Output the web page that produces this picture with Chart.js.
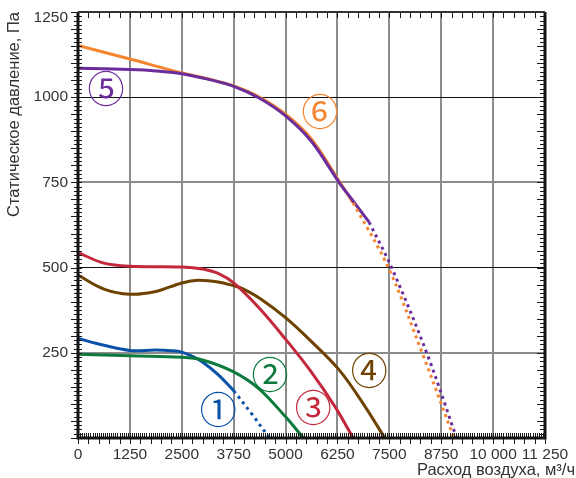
<!DOCTYPE html>
<html>
<head>
<meta charset="utf-8">
<script src="https://cdn.jsdelivr.net/npm/chart.js@4.4.1/dist/chart.umd.min.js"></script>
<style>
  html, body { margin: 0; padding: 0; background: #ffffff; }
  #wrap { width: 576px; height: 478px; }
</style>
</head>
<body>
<div id="wrap"><canvas id="c" width="576" height="478"></canvas></div>
<script>
// ---- tick labels ----
const flowTickLabels = ['0', '1250', '2500', '3750', '5000', '6250', '7500', '8750', '10 000', '11 250'];
const pressureTickLabels = ['', '250', '500', '750', '1000', '1250'];

// ---- curve 1 (blue) ----
const c1Flow = [0, 625, 1250, 1875, 2250, 2500, 2770, 3000, 3375, 3750];
const c1Pa   = [292, 272, 257, 258, 256, 252, 239, 223, 186, 139];
const c1DotFlow = [3750, 4190, 4612];
const c1DotPa   = [139, 70, 0];

// ---- curve 2 (green) ----
const c2Flow = [0, 1250, 2500, 3000, 3750, 4375, 5000, 5430];
const c2Pa   = [246, 241, 237, 229, 194, 143, 62, 0];

// ---- curve 3 (red) ----
const c3Flow = [0, 625, 1250, 2500, 3000, 3375, 3750, 4375, 5000, 5588, 6190, 6630];
const c3Pa   = [544, 513, 504, 502, 496, 483, 455, 380, 290, 199, 92, 0];

// ---- curve 4 (brown) ----
const c4Flow = [0, 625, 1250, 1875, 2500, 2900, 3375, 3750, 3950, 4375, 5000, 5588, 6310, 6900, 7390];
const c4Pa   = [478, 437, 422, 430, 455, 463, 458, 447, 439, 410, 353, 287, 197, 95, 0];

// ---- curve 5 (purple) ----
const c5Flow = [0, 1250, 1875, 2500, 3125, 3750, 4375, 5000, 5625, 6300, 6630, 7010];
const c5Pa   = [1085, 1081, 1077, 1069, 1053, 1032, 997, 945, 870, 748, 695, 634];
const c5DotFlow = [7010, 7555, 8400, 9120];
const c5DotPa   = [634, 500, 250, 0];

// ---- curve 6 (orange) ----
const c6Flow = [0, 1250, 2500, 3125, 3750, 4375, 5000, 5625, 6300, 6630];
const c6Pa   = [1152, 1112, 1071, 1054, 1033, 1000, 950, 877, 752, 690];
const c6DotFlow = [6630, 7475, 8290, 9055];
const c6DotPa   = [690, 500, 250, 0];

// ---- curve labels (data coordinates) ----
const labelTexts = ['①', '②', '③', '④', '⑤', '⑥'];
const labelFlow  = [3379, 4624, 5667, 7016, 674, 5829];
const labelPa    = [82, 185, 87, 197, 1025, 956];

const BLUE = '#0a52a8', GREEN = '#0b7a3c', RED = '#c4283c', BROWN = '#6e4200', PURPLE = '#6b2c9c', ORANGE = '#f5852f';
const labelColors = [BLUE, GREEN, RED, BROWN, PURPLE, ORANGE];

function pts(fx, py) { return fx.map((x, i) => ({ x: x, y: py[i] })); }

function solid(data, color) {
  return { data: data, borderColor: color, borderWidth: 3, pointRadius: 0, fill: false,
           tension: 0.35, borderCapStyle: 'butt' };
}
function dotted(data, color) {
  return { data: data, borderColor: color, borderWidth: 3, pointRadius: 0, fill: false,
           tension: 0.35, borderDash: [3, 4], borderCapStyle: 'butt' };
}

const datasets = [
  solid(pts(c2Flow, c2Pa), GREEN),
  solid(pts(c1Flow, c1Pa), BLUE),
  dotted(pts(c1DotFlow, c1DotPa), BLUE),
  solid(pts(c3Flow, c3Pa), RED),
  solid(pts(c4Flow, c4Pa), BROWN),
  dotted(pts(c6DotFlow, c6DotPa), ORANGE),
  dotted(pts(c5DotFlow, c5DotPa), PURPLE),
  solid(pts(c5Flow, c5Pa), PURPLE),
  solid(pts(c6Flow, c6Pa), ORANGE)
];

const FONT = '"Liberation Sans", Arial, sans-serif';

const frameAndTicks = {
  id: 'frameAndTicks',
  afterDatasetsDraw(chart) {
    const ctx = chart.ctx;
    const xs = chart.scales.x, ys = chart.scales.y;
    const L = xs.getPixelForValue(0), R = xs.getPixelForValue(11250);
    const B = ys.getPixelForValue(0), T = ys.getPixelForValue(1250);
    ctx.save();
    ctx.strokeStyle = '#1a1a1a';
    ctx.lineWidth = 1;
    ctx.beginPath();
    for (let v = 0; v <= 11250; v += 50) {
      const p = Math.round(xs.getPixelForValue(v)) + 0.5;
      ctx.moveTo(p, B); ctx.lineTo(p, B - 5);
      if (v % 250 === 0) { ctx.moveTo(p, B); ctx.lineTo(p, B + 6); }
    }
    for (let v = 0; v <= 11250; v += 250) {
      const p = Math.round(xs.getPixelForValue(v)) + 0.5;
      ctx.moveTo(p, T); ctx.lineTo(p, T + 6);
    }
    for (let v = 0; v <= 1250; v += 12.5) {
      const p = Math.round(ys.getPixelForValue(v)) + 0.5;
      const big = (v % 50 === 0);
      ctx.moveTo(L - (big ? 7 : 4), p); ctx.lineTo(L + 4, p);
      ctx.moveTo(R, p); ctx.lineTo(R - (big ? 8 : 5), p);
    }
    ctx.stroke();
    ctx.strokeStyle = '#141414';
    ctx.lineWidth = 3;
    ctx.beginPath();
    ctx.moveTo(L, T); ctx.lineTo(L, B); ctx.lineTo(R, B); ctx.lineTo(R, T);
    ctx.stroke();
    ctx.lineWidth = 2;
    ctx.strokeStyle = '#333';
    ctx.beginPath();
    ctx.moveTo(L, T); ctx.lineTo(R, T);
    ctx.stroke();

    // top y tick label, nudged down inside the canvas as in the reference
    ctx.fillStyle = '#333';
    ctx.font = '15.5px ' + FONT;
    ctx.textAlign = 'right';
    ctx.textBaseline = 'middle';
    ctx.fillText(pressureTickLabels[5], L - 10, T + 6);

    // curve labels
    ctx.textAlign = 'center';
    ctx.textBaseline = 'middle';
    ctx.font = '400 37px "Noto Sans CJK JP"';
    for (let i = 0; i < labelTexts.length; i++) {
      ctx.fillStyle = labelColors[i];
      ctx.fillText(labelTexts[i], xs.getPixelForValue(labelFlow[i]), ys.getPixelForValue(labelPa[i]));
    }

    // x axis title
    ctx.fillStyle = '#333';
    ctx.font = '16.5px ' + FONT;
    ctx.textAlign = 'right';
    ctx.textBaseline = 'alphabetic';
    ctx.fillText('Расход воздуха, м³/ч', 575, 475);
    ctx.restore();
  }
};

new Chart(document.getElementById('c'), {
  type: 'line',
  data: { datasets: datasets },
  plugins: [frameAndTicks],
  options: {
    responsive: false,
    animation: false,
    events: [],
    layout: { padding: { top: 12, right: 31, left: 0, bottom: 0 } },
    plugins: { legend: { display: false }, tooltip: { enabled: false } },
    scales: {
      x: {
        type: 'linear', min: 0, max: 11250,
        afterFit(s) { s.height = 40; s.paddingLeft = 0; s.paddingRight = 0; },
        border: { display: false },
        grid: {
          drawTicks: false,
          color: (c) => (c.tick && (c.tick.value === 0 || c.tick.value === 11250)) ? 'rgba(0,0,0,0)' : '#8c8c8c',
          lineWidth: 2
        },
        ticks: {
          stepSize: 1250, autoSkip: false, maxRotation: 0, padding: 7,
          color: '#333',
          font: { family: FONT, size: 15.5 },
          callback: (v) => flowTickLabels[Math.round(v / 1250)]
        }
      },
      y: {
        type: 'linear', min: 0, max: 1250,
        afterFit(s) { s.width = 78; s.paddingTop = 0; s.paddingBottom = 0; },
        border: { display: false },
        title: {
          display: true, text: 'Статическое давление, Па', align: 'end',
          color: '#333', padding: { top: 5, bottom: 0 },
          font: { family: FONT, size: 16.5 }
        },
        grid: {
          drawTicks: false,
          color: (c) => {
            const v = c.tick ? c.tick.value : -1;
            if (v === 0 || v === 1250) return 'rgba(0,0,0,0)';
            return (v === 500 || v === 1000) ? '#111' : '#8c8c8c';
          },
          lineWidth: (c) => {
            const v = c.tick ? c.tick.value : -1;
            return (v === 500 || v === 1000) ? 1 : 2;
          }
        },
        ticks: {
          stepSize: 250, autoSkip: false, padding: 10,
          color: '#333',
          font: { family: FONT, size: 15.5 },
          callback: (v) => {
            const i = Math.round(v / 250);
            return i === 5 ? '' : pressureTickLabels[i];
          }
        }
      }
    }
  }
});
</script>
</body>
</html>
